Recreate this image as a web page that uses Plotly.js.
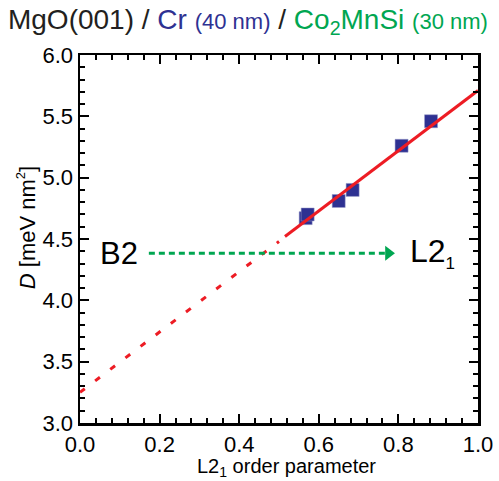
<!DOCTYPE html>
<html>
<head>
<meta charset="utf-8">
<script src="https://cdn.plot.ly/plotly-3.0.1.min.js"></script>
<style>html,body{margin:0;padding:0;background:#fff}#chart{width:499px;height:481px}</style>
</head>
<body>
<div id="chart"></div>
<script>
// Data
const orderParam = [0.567, 0.572, 0.650, 0.685, 0.808, 0.882];
const stiffnessD = [4.67, 4.70, 4.81, 4.90, 5.26, 5.46];
const fitSolidX = [0.515, 1.0];
const fitSolidY = [4.52, 5.71];
const fitDottedX = [0.0, 0.5];
const fitDottedY = [3.25, 4.48];
const arrowX = [0.173, 0.775];
const arrowY = [4.383, 4.383];
const xTickVals = [0, 0.2, 0.4, 0.6, 0.8, 1.0];
const xTickText = ['0.0', '0.2', '0.4', '0.6', '0.8', '1.0'];
const yTickVals = [3.0, 3.5, 4.0, 4.5, 5.0, 5.5, 6.0];
const yTickText = ['3.0', '3.5', '4.0', '4.5', '5.0', '5.5', '6.0'];

const FONT = 'Arial, "Liberation Sans", Helvetica, sans-serif';
const RED = '#ed1c24', BLUE = '#2e3192', GREEN = '#00a651';

const traces = [
  {x: fitDottedX, y: fitDottedY, mode: 'lines', line: {color: RED, width: 3, dash: '6px,13px'}, hoverinfo: 'skip'},
  {x: arrowX, y: arrowY, mode: 'lines', line: {color: GREEN, width: 3, dash: '6px,4px'}, hoverinfo: 'skip'},
  {x: [arrowX[1]], y: [arrowY[1]], mode: 'markers', marker: {symbol: 'triangle-right', size: 13, color: GREEN}, hoverinfo: 'skip'},
  {x: orderParam, y: stiffnessD, mode: 'markers', marker: {symbol: 'square', size: 13, color: BLUE, line: {width: 0.5, color: '#9a9cc8'}}},
  {x: fitSolidX, y: fitSolidY, mode: 'lines', line: {color: RED, width: 3}, hoverinfo: 'skip'}
];

const axisCommon = {
  showgrid: false, zeroline: false, showline: true, linecolor: '#000', linewidth: 2.5,
  mirror: 'allticks', ticks: 'inside', ticklen: 9, tickwidth: 2, tickcolor: '#000',
  tickfont: {family: FONT, size: 22, color: '#000'}
};

const layout = {
  width: 499, height: 481,
  margin: {l: 80, r: 21, t: 55, b: 58},
  paper_bgcolor: '#fff', plot_bgcolor: '#fff',
  showlegend: false,
  font: {family: FONT, color: '#000'},
  title: {
    text: 'MgO(001) / <span style="color:' + BLUE + '">Cr</span> <span style="color:' + BLUE + ';font-size:22px">(40 nm)</span> / <span style="color:' + GREEN + '">Co<sub>2</sub>MnSi</span> <span style="color:' + GREEN + ';font-size:22px">(30 nm)</span>',
    font: {family: FONT, size: 28, color: '#231f20'},
    xref: 'container', yref: 'container', x: 0.016, xanchor: 'left', y: 1 - 19/481, yanchor: 'middle'
  },
  xaxis: Object.assign({}, axisCommon, {
    range: [0, 1.0], tickmode: 'array', tickvals: xTickVals, ticktext: xTickText,
    minor: {dtick: 0.04, ticks: 'inside', ticklen: 5, tickwidth: 2, tickcolor: '#000'}
  }),
  yaxis: Object.assign({}, axisCommon, {
    range: [3.0, 6.0], tickmode: 'array', tickvals: yTickVals, ticktext: yTickText,
    minor: {dtick: 0.1, ticks: 'inside', ticklen: 5, tickwidth: 2, tickcolor: '#000'}
  }),
  annotations: [
    {text: 'L2<sub>1</sub> order parameter', xref: 'paper', yref: 'paper', x: 0.52, y: -0.121, xanchor: 'center', yanchor: 'middle', showarrow: false, font: {family: FONT, size: 20}},
    {text: '<i>D</i> [meV nm<sup><span style="font-size:13px">2</span></sup>]', xref: 'paper', yref: 'paper', x: -0.135, y: 0.53, xanchor: 'center', yanchor: 'middle', textangle: -90, showarrow: false, font: {family: FONT, size: 22}},
    {text: 'B2', xref: 'x', yref: 'y', x: 0.097, y: 4.383, xanchor: 'center', yanchor: 'middle', showarrow: false, font: {family: FONT, size: 31}},
    {text: 'L2<sub><span style="font-size:17px">1</span></sub>', xref: 'x', yref: 'y', x: 0.825, y: 4.383, xanchor: 'left', yanchor: 'middle', showarrow: false, font: {family: FONT, size: 32}}
  ]
};

Plotly.newPlot('chart', traces, layout, {staticPlot: true, displayModeBar: false});
</script>
</body>
</html>
